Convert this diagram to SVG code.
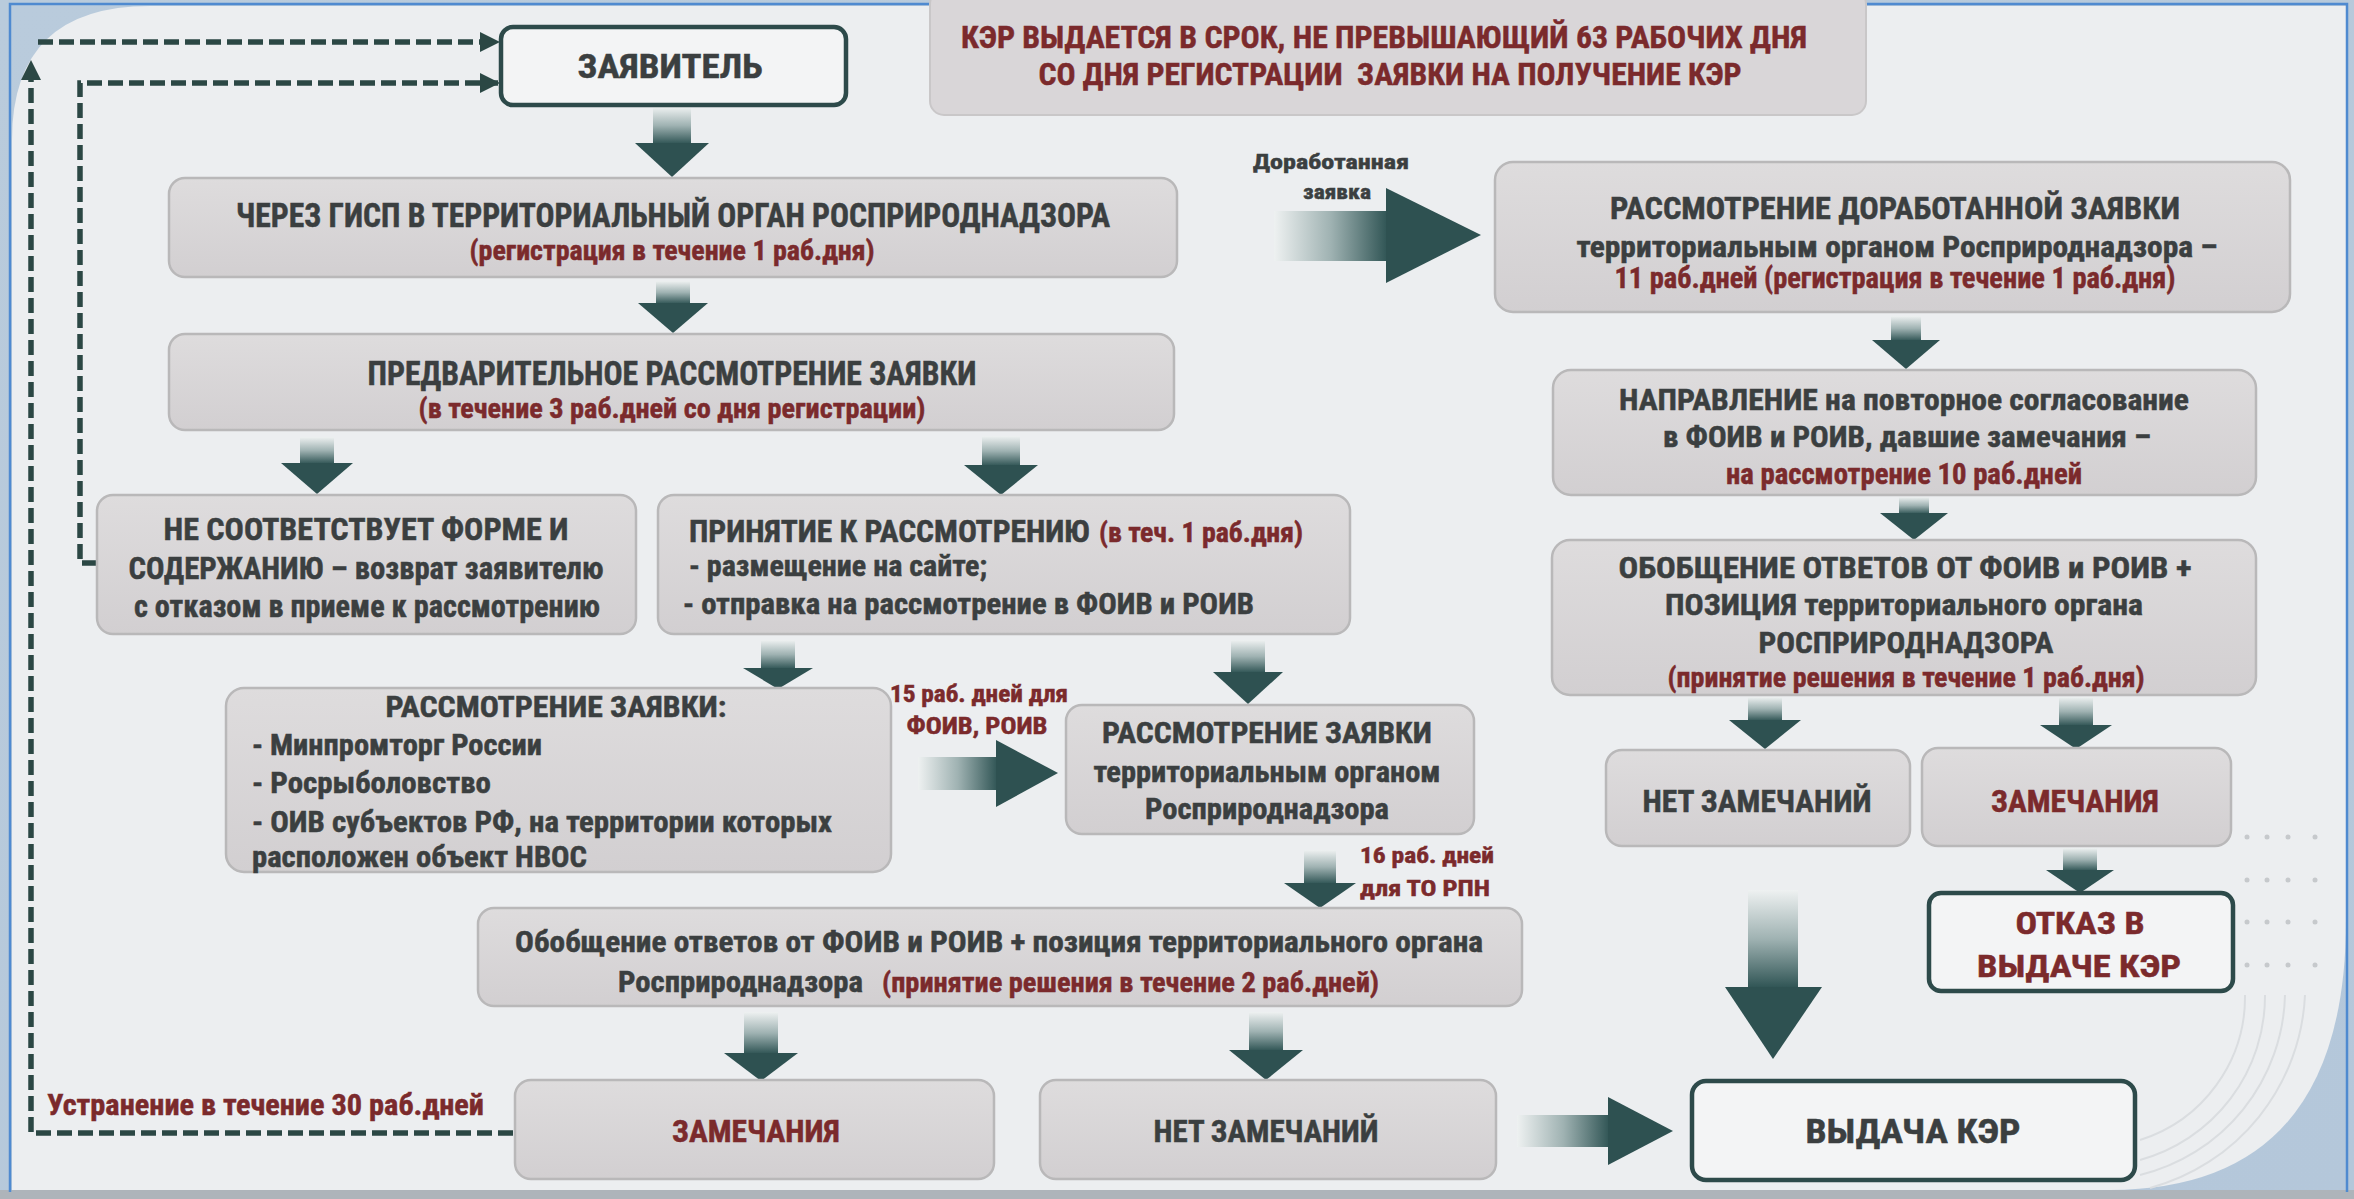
<svg xmlns="http://www.w3.org/2000/svg" width="2354" height="1199" viewBox="0 0 2354 1199">
<defs>
<style>
.t{font-family:"Liberation Sans Narrow","Arial Narrow","Roboto Condensed","Liberation Sans",sans-serif;font-weight:700;fill:#3b3f40;stroke:#3b3f40;stroke-width:0.5}
.m{text-anchor:middle}
.r{fill:#7b2a2c;stroke:#7b2a2c}
.box{fill:url(#gBox);stroke:#b9b8b9;stroke-width:2.5}
.wbox{fill:#f3f4f5;stroke:#2d4a4a;stroke-width:4.5}
.dash{fill:none;stroke:#2b4744;stroke-width:5.5;stroke-dasharray:15 6}
.head{fill:#2e5151}
.sv{fill:url(#gV)}
.sh{fill:url(#gH)}
.dot{fill:#c6c9cc}
.arc{fill:none;stroke:#dadde0;stroke-width:2}
</style>
<linearGradient id="gBox" x1="0" y1="0" x2="0" y2="1">
<stop offset="0" stop-color="#dedcdd"/>
<stop offset="1" stop-color="#d2cfd1"/>
</linearGradient>
<linearGradient id="gV" x1="0" y1="0" x2="0" y2="1">
<stop offset="0" stop-color="#eef1f1"/>
<stop offset="0.5" stop-color="#9fb2b2"/>
<stop offset="1" stop-color="#2f5454"/>
</linearGradient>
<linearGradient id="gH" x1="0" y1="0" x2="1" y2="0">
<stop offset="0" stop-color="#eef1f1"/>
<stop offset="0.5" stop-color="#9fb2b2"/>
<stop offset="1" stop-color="#2f5454"/>
</linearGradient>
<linearGradient id="gBg" x1="0" y1="0" x2="1" y2="1">
<stop offset="0" stop-color="#b9cbdc"/>
<stop offset="1" stop-color="#b4c7da"/>
</linearGradient>
<marker id="ah" viewBox="0 0 10 10" refX="9" refY="5" markerWidth="20" markerHeight="20" markerUnits="userSpaceOnUse" orient="auto">
<path d="M0,0 L10,5 L0,10 z" fill="#2b4744"/>
</marker>
</defs>

<g id="background">
<rect x="0" y="0" width="2354" height="1199" fill="url(#gBg)"/>
<path d="M12,140 Q12,6 150,6 H2346 V920 Q2346,1190 2110,1190 H12 Z" fill="#eceef0"/>
<rect x="0" y="1190" width="2354" height="9" fill="#aeb4ba"/>
<path d="M10,1192 V4 H2347 V1192" fill="none" stroke="#4f8ad0" stroke-width="2.5"/>
<g>
<circle class="dot" cx="2247" cy="837" r="2.5"/><circle class="dot" cx="2267" cy="837" r="2.5"/><circle class="dot" cx="2288" cy="837" r="2.5"/><circle class="dot" cx="2315" cy="837" r="2.5"/>
<circle class="dot" cx="2247" cy="880" r="2.5"/><circle class="dot" cx="2267" cy="880" r="2.5"/><circle class="dot" cx="2288" cy="880" r="2.5"/><circle class="dot" cx="2315" cy="880" r="2.5"/>
<circle class="dot" cx="2247" cy="922" r="2.5"/><circle class="dot" cx="2267" cy="922" r="2.5"/><circle class="dot" cx="2288" cy="922" r="2.5"/><circle class="dot" cx="2315" cy="922" r="2.5"/>
<circle class="dot" cx="2247" cy="965" r="2.5"/><circle class="dot" cx="2267" cy="965" r="2.5"/><circle class="dot" cx="2288" cy="965" r="2.5"/><circle class="dot" cx="2315" cy="965" r="2.5"/>
</g>
<path class="arc" d="M2245,995 A150,150 0 0 1 2140,1140"/>
<path class="arc" d="M2265,995 A170,170 0 0 1 2140,1160"/>
<path class="arc" d="M2285,995 A190,190 0 0 1 2140,1175"/>
<path class="arc" d="M2305,995 A210,210 0 0 1 2150,1188"/>
</g>

<g id="connectors">
<path class="dash" d="M513,1133 H31 V62" marker-end="url(#ah)"/>
<path class="dash" d="M38,42 H498" marker-end="url(#ah)"/>
<path class="dash" d="M97,563 H80 V83 H498" marker-end="url(#ah)"/>

<rect class="sv" x="653" y="107" width="38" height="37"/><polygon class="head" points="635,143 709,143 672,177"/>
<rect class="sv" x="656" y="281" width="34" height="23"/><polygon class="head" points="638,303 708,303 673,333"/>
<rect class="sv" x="300" y="437" width="34" height="27"/><polygon class="head" points="281,463 353,463 317,494"/>
<rect class="sv" x="982" y="436" width="38" height="30"/><polygon class="head" points="964,465 1038,465 1001,495"/>
<rect class="sv" x="761" y="640" width="34" height="29"/><polygon class="head" points="743,668 813,668 778,689"/>
<rect class="sv" x="1231" y="640" width="34" height="33"/><polygon class="head" points="1213,672 1283,672 1248,704"/>
<rect class="sv" x="1304" y="850" width="32" height="34"/><polygon class="head" points="1284,883 1356,883 1320,908"/>
<rect class="sv" x="744" y="1012" width="34" height="42"/><polygon class="head" points="724,1053 798,1053 761,1081"/>
<rect class="sv" x="1249" y="1012" width="34" height="39"/><polygon class="head" points="1229,1050 1303,1050 1266,1080"/>
<rect class="sv" x="1891" y="316" width="30" height="25"/><polygon class="head" points="1872,340 1940,340 1906,369"/>
<rect class="sv" x="1899" y="497" width="30" height="17"/><polygon class="head" points="1880,513 1948,513 1914,540"/>
<rect class="sv" x="1748" y="697" width="34" height="24"/><polygon class="head" points="1729,720 1801,720 1765,749"/>
<rect class="sv" x="2059" y="697" width="34" height="29"/><polygon class="head" points="2040,725 2112,725 2076,749"/>
<rect class="sv" x="2063" y="848" width="34" height="23"/><polygon class="head" points="2046,870 2114,870 2080,893"/>
<rect class="sv" x="1748" y="890" width="50" height="98"/><polygon class="head" points="1725,987 1822,987 1773,1059"/>

<rect class="sh" x="1274" y="211" width="114" height="50"/><polygon class="head" points="1386,188 1386,283 1481,235"/>
<rect class="sh" x="918" y="757" width="80" height="33"/><polygon class="head" points="996,740 996,807 1058,773"/>
<rect class="sh" x="1517" y="1115" width="93" height="32"/><polygon class="head" points="1608,1097 1608,1165 1673,1131"/>

<text class="t" x="1331" y="169" font-size="21" text-anchor="middle" textLength="156" lengthAdjust="spacingAndGlyphs">Доработанная</text>
<text class="t" x="1337" y="199" font-size="21" text-anchor="middle" textLength="68" lengthAdjust="spacingAndGlyphs">заявка</text>
<text class="t r" x="979" y="702" font-size="23" text-anchor="middle" textLength="178" lengthAdjust="spacingAndGlyphs">15 раб. дней для</text>
<text class="t r" x="977" y="734" font-size="23" text-anchor="middle" textLength="141" lengthAdjust="spacingAndGlyphs">ФОИВ, РОИВ</text>
<text class="t r" x="1427" y="863" font-size="22" text-anchor="middle" textLength="134" lengthAdjust="spacingAndGlyphs">16 раб. дней</text>
<text class="t r" x="1425" y="896" font-size="22" text-anchor="middle" textLength="130" lengthAdjust="spacingAndGlyphs">для ТО РПН</text>
<text class="t r" x="47" y="1115" font-size="30" textLength="437" lengthAdjust="spacingAndGlyphs">Устранение в течение 30 раб.дней</text>
</g>

<g id="header">
<rect x="930" y="-10" width="936" height="125" rx="14" fill="#d9d6d8" stroke="#c9c7c8" stroke-width="2"/>
<text class="t r m" x="1384" y="48" font-size="32" textLength="846" lengthAdjust="spacingAndGlyphs">КЭР ВЫДАЕТСЯ В СРОК, НЕ ПРЕВЫШАЮЩИЙ 63 РАБОЧИХ ДНЯ</text>
<text class="t r m" x="1390" y="85" font-size="32" textLength="703" lengthAdjust="spacingAndGlyphs" xml:space="preserve">СО ДНЯ РЕГИСТРАЦИИ  ЗАЯВКИ НА ПОЛУЧЕНИЕ КЭР</text>
</g>

<g id="zayavitel">
<rect class="wbox" x="501" y="27" width="345" height="78" rx="12"/>
<text class="t m" x="670" y="78" font-size="34" textLength="185" lengthAdjust="spacingAndGlyphs">ЗАЯВИТЕЛЬ</text>
</g>

<g id="gisp">
<rect class="box" x="169" y="178" width="1008" height="99" rx="16"/>
<text class="t m" x="673" y="227" font-size="33" textLength="874" lengthAdjust="spacingAndGlyphs">ЧЕРЕЗ ГИСП В ТЕРРИТОРИАЛЬНЫЙ ОРГАН РОСПРИРОДНАДЗОРА</text>
<text class="t r m" x="672" y="260" font-size="28" textLength="405" lengthAdjust="spacingAndGlyphs">(регистрация в течение 1 раб.дня)</text>
</g>

<g id="predv">
<rect class="box" x="169" y="334" width="1005" height="96" rx="16"/>
<text class="t m" x="672" y="385" font-size="33" textLength="609" lengthAdjust="spacingAndGlyphs">ПРЕДВАРИТЕЛЬНОЕ РАССМОТРЕНИЕ ЗАЯВКИ</text>
<text class="t r m" x="672" y="418" font-size="28" textLength="507" lengthAdjust="spacingAndGlyphs">(в течение 3 раб.дней со дня регистрации)</text>
</g>

<g id="ne-sootv">
<rect class="box" x="97" y="495" width="539" height="139" rx="16"/>
<text class="t m" x="366" y="540" font-size="32" textLength="405" lengthAdjust="spacingAndGlyphs">НЕ СООТВЕТСТВУЕТ ФОРМЕ И</text>
<text class="t m" x="366" y="579" font-size="32" textLength="475" lengthAdjust="spacingAndGlyphs">СОДЕРЖАНИЮ – возврат заявителю</text>
<text class="t m" x="367" y="617" font-size="32" textLength="466" lengthAdjust="spacingAndGlyphs">с отказом в приеме к рассмотрению</text>
</g>

<g id="prinyatie">
<rect class="box" x="658" y="495" width="692" height="139" rx="16"/>
<text class="t" x="689" y="542" font-size="31" textLength="401" lengthAdjust="spacingAndGlyphs">ПРИНЯТИЕ К РАССМОТРЕНИЮ</text>
<text class="t r" x="1099" y="542" font-size="27" textLength="204" lengthAdjust="spacingAndGlyphs">(в теч. 1 раб.дня)</text>
<text class="t" x="689" y="576" font-size="30" textLength="298" lengthAdjust="spacingAndGlyphs">- размещение на сайте;</text>
<text class="t" x="683" y="614" font-size="30" textLength="571" lengthAdjust="spacingAndGlyphs">- отправка на рассмотрение в ФОИВ и РОИВ</text>
</g>

<g id="rassm-foiv">
<rect class="box" x="226" y="688" width="665" height="184" rx="18"/>
<text class="t m" x="556" y="717" font-size="30" textLength="341" lengthAdjust="spacingAndGlyphs">РАССМОТРЕНИЕ ЗАЯВКИ:</text>
<text class="t" x="252" y="755" font-size="29" textLength="290" lengthAdjust="spacingAndGlyphs">- Минпромторг России</text>
<text class="t" x="252" y="793" font-size="29" textLength="239" lengthAdjust="spacingAndGlyphs">- Росрыболовство</text>
<text class="t" x="252" y="832" font-size="29" textLength="580" lengthAdjust="spacingAndGlyphs">- ОИВ субъектов РФ, на территории которых</text>
<text class="t" x="252" y="867" font-size="29" textLength="335" lengthAdjust="spacingAndGlyphs">расположен объект НВОС</text>
</g>

<g id="rassm-to">
<rect class="box" x="1066" y="705" width="408" height="129" rx="16"/>
<text class="t m" x="1267" y="743" font-size="30" textLength="330" lengthAdjust="spacingAndGlyphs">РАССМОТРЕНИЕ ЗАЯВКИ</text>
<text class="t m" x="1267" y="782" font-size="29" textLength="347" lengthAdjust="spacingAndGlyphs">территориальным органом</text>
<text class="t m" x="1267" y="819" font-size="29" textLength="244" lengthAdjust="spacingAndGlyphs">Росприроднадзора</text>
</g>

<g id="obobsch-1">
<rect class="box" x="478" y="908" width="1044" height="98" rx="16"/>
<text class="t m" x="999" y="952" font-size="29" textLength="968" lengthAdjust="spacingAndGlyphs">Обобщение ответов от ФОИВ и РОИВ + позиция территориального органа</text>
<text class="t" x="618" y="992" font-size="29" textLength="245" lengthAdjust="spacingAndGlyphs">Росприроднадзора</text>
<text class="t r" x="882" y="992" font-size="28" textLength="497" lengthAdjust="spacingAndGlyphs">(принятие решения в течение 2 раб.дней)</text>
</g>

<g id="zamech-1">
<rect class="box" x="515" y="1080" width="479" height="99" rx="16"/>
<text class="t r m" x="756" y="1142" font-size="32" textLength="168" lengthAdjust="spacingAndGlyphs">ЗАМЕЧАНИЯ</text>
</g>

<g id="net-zamech-1">
<rect class="box" x="1040" y="1080" width="456" height="99" rx="16"/>
<text class="t m" x="1266" y="1142" font-size="32" textLength="225" lengthAdjust="spacingAndGlyphs">НЕТ ЗАМЕЧАНИЙ</text>
</g>

<g id="vydacha">
<rect class="wbox" x="1692" y="1081" width="443" height="99" rx="14"/>
<text class="t m" x="1913" y="1143" font-size="34" textLength="215" lengthAdjust="spacingAndGlyphs">ВЫДАЧА КЭР</text>
</g>

<g id="dorab">
<rect class="box" x="1495" y="162" width="795" height="150" rx="18"/>
<text class="t m" x="1895" y="219" font-size="32" textLength="570" lengthAdjust="spacingAndGlyphs">РАССМОТРЕНИЕ ДОРАБОТАННОЙ ЗАЯВКИ</text>
<text class="t m" x="1897" y="257" font-size="30" textLength="641" lengthAdjust="spacingAndGlyphs">территориальным органом Росприроднадзора –</text>
<text class="t r m" x="1895" y="288" font-size="30" textLength="561" lengthAdjust="spacingAndGlyphs">11 раб.дней (регистрация в течение 1 раб.дня)</text>
</g>

<g id="napravlenie">
<rect class="box" x="1553" y="370" width="703" height="125" rx="18"/>
<text class="t m" x="1904" y="410" font-size="30" textLength="570" lengthAdjust="spacingAndGlyphs">НАПРАВЛЕНИЕ на повторное согласование</text>
<text class="t m" x="1907" y="447" font-size="30" textLength="488" lengthAdjust="spacingAndGlyphs">в ФОИВ и РОИВ, давшие замечания –</text>
<text class="t r m" x="1904" y="484" font-size="29" textLength="356" lengthAdjust="spacingAndGlyphs">на рассмотрение 10 раб.дней</text>
</g>

<g id="obobsch-2">
<rect class="box" x="1552" y="540" width="704" height="155" rx="18"/>
<text class="t m" x="1905" y="578" font-size="30" textLength="573" lengthAdjust="spacingAndGlyphs">ОБОБЩЕНИЕ ОТВЕТОВ ОТ ФОИВ и РОИВ +</text>
<text class="t m" x="1904" y="615" font-size="30" textLength="478" lengthAdjust="spacingAndGlyphs">ПОЗИЦИЯ территориального органа</text>
<text class="t m" x="1906" y="653" font-size="30" textLength="295" lengthAdjust="spacingAndGlyphs">РОСПРИРОДНАДЗОРА</text>
<text class="t r m" x="1906" y="687" font-size="28" textLength="477" lengthAdjust="spacingAndGlyphs">(принятие решения в течение 1 раб.дня)</text>
</g>

<g id="net-zamech-2">
<rect class="box" x="1606" y="750" width="304" height="96" rx="16"/>
<text class="t m" x="1757" y="812" font-size="32" textLength="229" lengthAdjust="spacingAndGlyphs">НЕТ ЗАМЕЧАНИЙ</text>
</g>

<g id="zamech-2">
<rect class="box" x="1922" y="748" width="309" height="98" rx="16"/>
<text class="t r m" x="2075" y="812" font-size="32" textLength="168" lengthAdjust="spacingAndGlyphs">ЗАМЕЧАНИЯ</text>
</g>

<g id="otkaz">
<rect class="wbox" x="1929" y="893" width="304" height="98" rx="12"/>
<text class="t r m" x="2080" y="934" font-size="32" textLength="129" lengthAdjust="spacingAndGlyphs">ОТКАЗ В</text>
<text class="t r m" x="2079" y="977" font-size="32" textLength="204" lengthAdjust="spacingAndGlyphs">ВЫДАЧЕ КЭР</text>
</g>
</svg>
